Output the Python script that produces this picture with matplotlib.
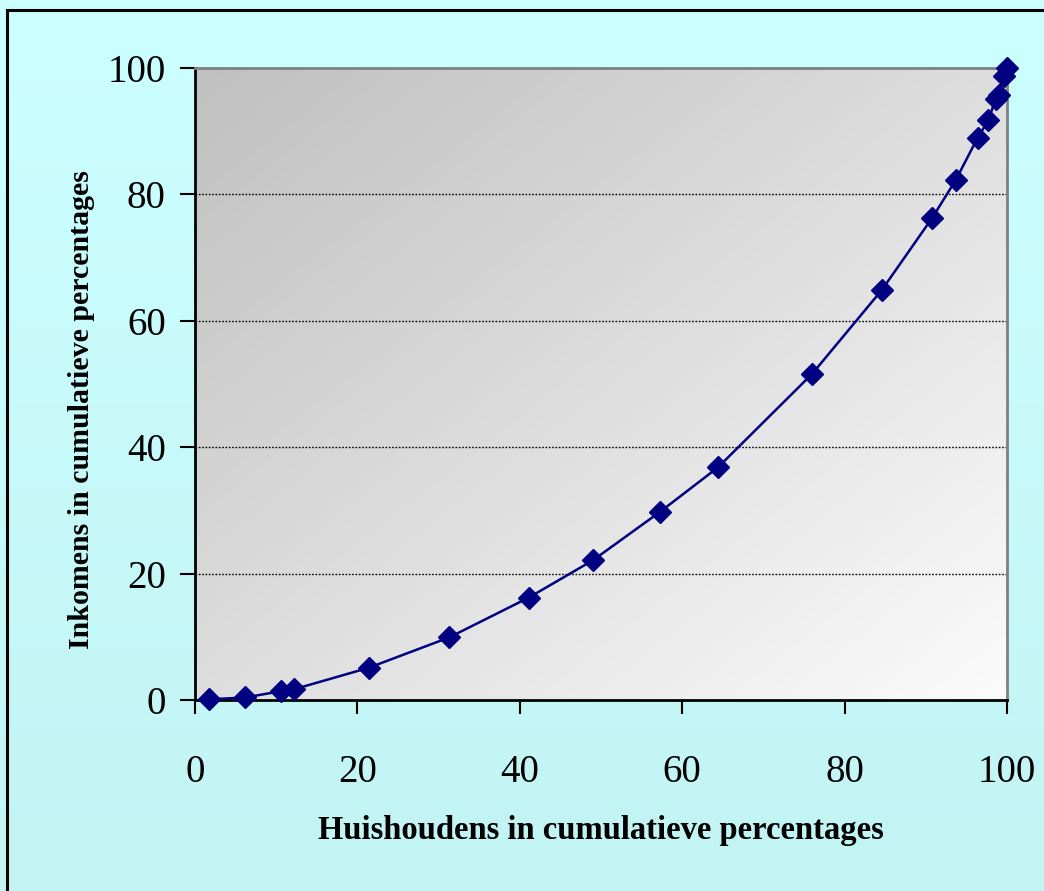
import numpy as np
import matplotlib
matplotlib.use("Agg")
import matplotlib.pyplot as plt
from matplotlib.patches import Rectangle
from matplotlib.colors import LinearSegmentedColormap

# cumulative share of households (x) and incomes (y)
households = [1.7, 6.2, 10.6, 12.2, 21.4, 31.3, 41.1, 49.0, 57.3, 64.4,
              76.0, 84.6, 90.8, 93.7, 96.4, 97.7, 98.6, 99.0, 99.6, 100.0]
incomes = [0.1, 0.4, 1.4, 1.7, 5.1, 9.9, 16.2, 22.1, 29.8, 36.8,
           51.6, 64.9, 76.3, 82.3, 89.0, 91.7, 95.1, 95.8, 98.7, 100.0]
ticks = [0, 20, 40, 60, 80, 100]

plt.rcParams['font.family'] = ['Liberation Serif', 'DejaVu Serif']

fig = plt.figure(figsize=(10.44, 8.91), dpi=100)

# light cyan background with a soft vertical gradient
bg = fig.add_axes([0, 0, 1, 1], zorder=-10)
bg_cmap = LinearSegmentedColormap.from_list('bg', ['#c2f4f4', '#ccffff'])
bg.imshow(np.linspace(0, 1, 256).reshape(-1, 1), aspect='auto', cmap=bg_cmap,
          origin='lower', extent=[0, 1, 0, 1])
bg.axis('off')
fig.patches.append(Rectangle((7 / 1044, -0.05), 1.2, 1 - 10 / 891 + 0.05,
                             transform=fig.transFigure, fill=False,
                             edgecolor='black', linewidth=2.2, zorder=5))

ax = fig.add_axes([195 / 1044, 1 - 700 / 891, 812 / 1044, 632 / 891])
ax.set_facecolor('none')

# grey (top left) to white (bottom right) gradient in the plot area
gx, gy = np.meshgrid(np.linspace(0, 1, 200), np.linspace(0, 1, 200))
grad = (gx + gy) / 2
area_cmap = LinearSegmentedColormap.from_list('area', ['#c0c0c0', '#fbfbfb'])
ax.imshow(grad, cmap=area_cmap, aspect='auto', origin='upper',
          extent=[0, 100, 0, 100], zorder=0)

for yv in ticks[1:-1]:
    ax.axhline(yv, color='black', linestyle=(0, (1.2, 1.2)), linewidth=1.0, zorder=1)

ax.plot(households, incomes, color='#000080', linewidth=1.8, marker='D',
        markersize=11, markerfacecolor='#000080', markeredgecolor='#000080',
        zorder=3, clip_on=False)

ax.set_xlim(0, 100)
ax.set_ylim(0, 100)
ax.set_xticks(ticks)
ax.set_yticks(ticks)
ax.tick_params(axis='x', direction='out', length=10, width=1.5, pad=29, labelsize=28)
ax.tick_params(axis='y', direction='out', length=11, width=1.5, pad=10, labelsize=28)

ax.spines['left'].set_color('black')
ax.spines['bottom'].set_color('black')
ax.spines['left'].set_linewidth(2)
ax.spines['bottom'].set_linewidth(2)
ax.spines['top'].set_color('#808080')
ax.spines['right'].set_color('#808080')
ax.spines['top'].set_linewidth(2)
ax.spines['right'].set_linewidth(2)

ax.set_xlabel('Huishoudens in cumulatieve percentages', fontsize=23.5,
              fontweight='bold', labelpad=17)
ax.set_ylabel('Inkomens in cumulatieve percentages', fontsize=21.5,
              fontweight='bold', labelpad=9)
ax.yaxis.label.set_y(0.459)

fig.savefig('out.png', dpi=100)
